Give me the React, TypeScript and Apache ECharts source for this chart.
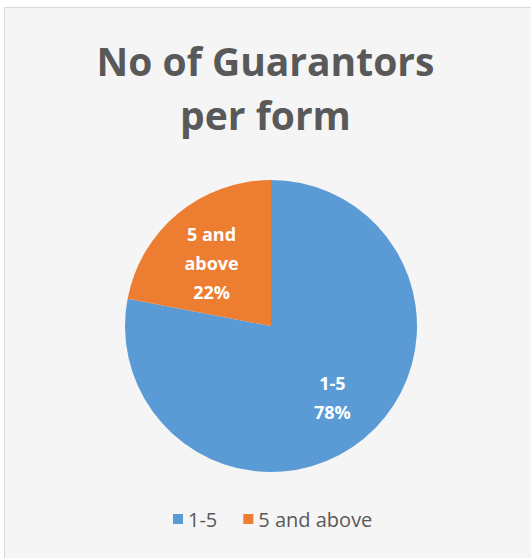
import React, { useEffect, useRef } from "react";
import * as echarts from "echarts";

const categories = ["1-5", "5 and above"];
const values = [78, 22];
const colors = ["#5B9BD5", "#ED7D31"];
const titleLines = ["No of Guarantors", "per form"];

export default function App() {
  const ref = useRef<HTMLDivElement>(null);
  useEffect(() => {
    if (!ref.current) return;
    const chart = echarts.init(ref.current, undefined, { renderer: "svg" });
    const offsets = [[13, 13], [-11, -4]];
    chart.setOption({
      animation: false,
      backgroundColor: "#ffffff",
      color: colors,
      graphic: [
        {
          type: "rect",
          shape: { x: 4.5, y: 7.5, width: 540, height: 560 },
          style: { fill: "#f5f5f5", stroke: "#d9d9d9", lineWidth: 1 },
          z: -10,
        },
      ],
      title: {
        text: titleLines.join("\n"),
        left: "center",
        top: 28,
        textStyle: {
          fontFamily: "Open Sans",
          fontWeight: "bold",
          fontSize: 39,
          lineHeight: 54,
          color: "#595959",
        },
      },
      legend: {
        bottom: 24,
        left: 168,
        icon: "rect",
        itemWidth: 10,
        itemHeight: 10,
        itemGap: 26,
        textStyle: { fontFamily: "Open Sans", fontSize: 20, color: "#595959" },
        data: categories,
      },
      series: [
        {
          type: "pie",
          center: [271, 326],
          radius: 146,
          startAngle: 90,
          clockwise: true,
          label: {
            show: true,
            position: "inside",
            formatter: (p: any) => `${p.name.replace(" above", "\nabove")}\n${p.percent.toFixed(0)}%`,
            fontFamily: "Open Sans",
            fontWeight: "bold",
            fontSize: 18,
            lineHeight: 29,
            color: "#ffffff",
          },
          labelLine: { show: false },
          itemStyle: { borderWidth: 0 },
          data: categories.map((c, i) => ({
            name: c,
            value: values[i],
            label: { offset: offsets[i] },
          })),
        },
      ],
    });
    return () => chart.dispose();
  }, []);
  return (
    <div
      ref={ref}
      style={{ position: "absolute", left: 0, top: 0, width: 531, height: 558 }}
    />
  );
}
